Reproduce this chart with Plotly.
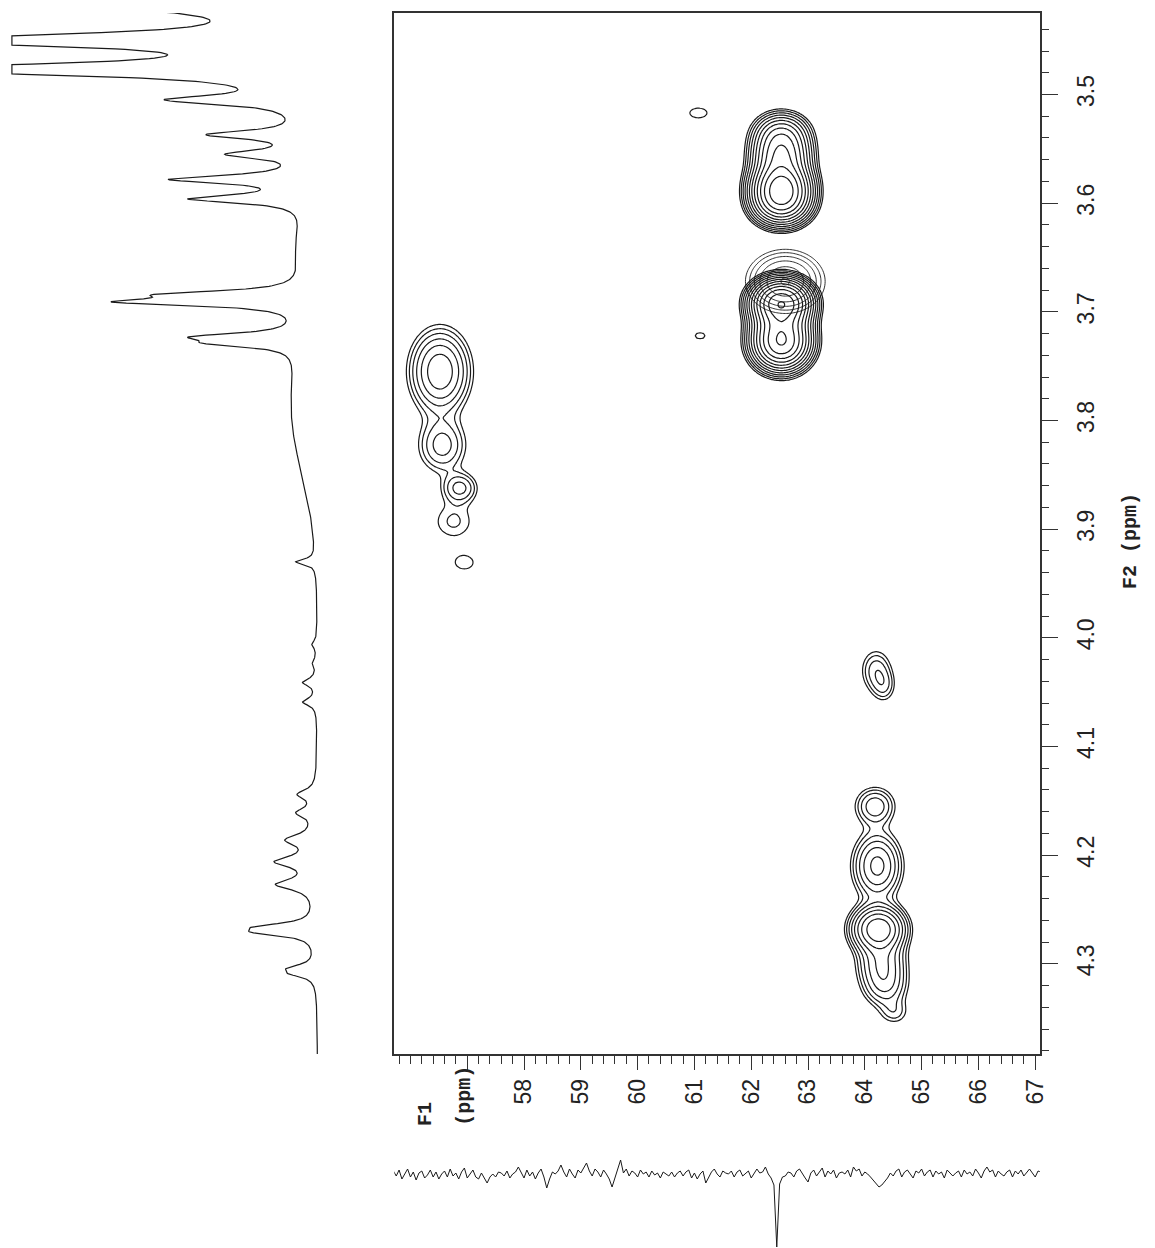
import numpy as np
import plotly.graph_objects as go

# ---------------- axis data ----------------
F1_RANGE = [55.715, 67.08]          # 13C (ppm), horizontal
F2_RANGE = [4.383, 3.425]           # 1H (ppm), vertical, increasing downward
f1_tickvals = [57, 58, 59, 60, 61, 62, 63, 64, 65, 66, 67]
f1_ticktext = ["", "58", "59", "60", "61", "62", "63", "64", "65", "66", "67"]
f2_tickvals = [3.5, 3.6, 3.7, 3.8, 3.9, 4.0, 4.1, 4.2, 4.3]
f2_ticktext = ["3.5", "3.6", "3.7", "3.8", "3.9", "4.0", "4.1", "4.2", "4.3"]

# ---------------- 2D cross peaks (main set) ----------------
pk_f1 = [62.53, 62.53, 62.53, 62.53, 62.53, 62.53, 62.53,
         56.52, 56.56, 56.87, 56.76, 56.95,
         61.07, 61.10,
         64.20, 64.34,
         64.18, 64.22, 64.24, 64.30, 64.36, 64.52]
pk_f2 = [3.585, 3.600, 3.556, 3.537, 3.692, 3.728, 3.710,
         3.755, 3.823, 3.862, 3.893, 3.931,
         3.517, 3.722,
         4.030, 4.045,
         4.155, 4.210, 4.268, 4.300, 4.322, 4.345]
pk_h = [45, 20, 18, 10, 55, 40, 10,
        7, 3.2, 3.0, 1.5, 1.2,
        1.33, 1.28,
        2.4, 1.6,
        3.5, 6, 14, 5, 3, 1.5]
pk_w1 = [0.26, 0.26, 0.26, 0.26, 0.26, 0.26, 0.26,
         0.30, 0.27, 0.20, 0.30, 0.24,
         0.20, 0.12,
         0.18, 0.14,
         0.22, 0.25, 0.26, 0.25, 0.24, 0.18]
pk_w2 = [0.013, 0.011, 0.012, 0.011, 0.011, 0.013, 0.010,
         0.022, 0.016, 0.009, 0.014, 0.009,
         0.006, 0.004,
         0.013, 0.010,
         0.011, 0.018, 0.012, 0.014, 0.012, 0.008]

# second (overlaid) weaker set
pk2_f1 = [62.60]
pk2_f2 = [3.672]
pk2_h = [5.5]
pk2_w1 = [0.38]
pk2_w2 = [0.016]

# ---------------- 1H projection (left) ----------------
h_ppm = [3.412, 3.450, 3.477, 3.505, 3.537, 3.555, 3.578, 3.596,
         3.684, 3.691, 3.723, 3.729, 3.930,
         4.006, 4.023, 4.041, 4.059,
         4.144, 4.161, 4.186, 4.206, 4.227, 4.266, 4.271, 4.304, 4.309]
h_amp = [420, 420, 420, 125, 95, 75, 135, 115,
         112, 168, 90, 70, 20,
         5, 4, 14, 14,
         18, 18, 28, 38, 38, 45, 48, 22, 20]
h_hw = [0.008, 0.006, 0.006, 0.005, 0.0045, 0.0045, 0.0045, 0.0045,
        0.004, 0.004, 0.004, 0.004, 0.003,
        0.004, 0.004, 0.004, 0.004,
        0.005, 0.005, 0.006, 0.006, 0.006, 0.004, 0.004, 0.004, 0.004]
h_broad_ppm = [3.640, 3.790]
h_broad_amp = [15, 25]
h_broad_sd = [0.025, 0.060]
H_CLIP = 308

# ---------------- 13C projection (bottom) ----------------
c13_start = 55.60
c13_step = 0.05
c13_vals = [
    2, -3, 4, -1, 5, -4, 1, 6, -2, 3, -5, 2, 4, -3, 0, 5, -2, 3, -4, 1,
    4, -2, 6, -1, 2, -4, 3, 7, -3, 1, 5, -2, -4, 2, -3, -8, -2, 1, -2, 3,
    2, -1, 4, -3, 1, 3, 8, 2, -3, 5, -1, 3, -4, 2, 6, -2, -13, -4, 3, 1,
    4, 10, 3, -2, 6, 1, -3, 5, 2, 7, 12, 4, -1, 6, 3, -2, 5, 1, -4, -12,
    -3, 4, 15, 2, 6, -1, 4, 2, -2, 5, 1, 3, -2, 4, 0, 2, -3, 3, 1, -1,
    3, -2, 2, 4, -1, 3, 5, -3, 2, -4, 1, 4, -8, -2, 3, 6, 1, -2, 4, 2,
    1, 4, -2, 3, 5, -1, 2, 4, -3, 1, 6, 2, 3, 8, 1, -3, -10, -72, -9, -2,
    -1, 3, 2, -2, 4, 6, 1, -3, -7, 2, 5, -1, 3, 7, -2, 4, 1, 5, -3, 2,
    3, 1, 5, -2, 8, 4, 6, -1, 3, 1, -2, -5, -8, -12, -10, -7, -3, 2, -1, 4,
    6, -2, 3, 5, 1, -3, 4, 2, 6, -1, 3, 5, -2, 4, 1, 3, -3, 5, 2, -1,
    2, 4, -2, 5, 1, 3, -1, 6, 2, -3, 4, 8, 3, 5, -2, 4, 1, -1, 3, 5,
    -2, 4, 1, 5, -1, 3, 6, 2, -2, 4, 3, 5,
]

# ---------------- build derived arrays ----------------
W, H = 1155, 1248
LINE = "#1a1a1a"

g1 = np.round(np.arange(55.6, 67.2, 0.025), 4)
g2 = np.round(np.arange(3.41, 4.40, 0.002), 4)
X, Y = np.meshgrid(g1, g2)


def surface(c1, c2, hh, w1, w2):
    Z = np.zeros_like(X)
    for a, b, h, s1, s2 in zip(c1, c2, hh, w1, w2):
        Z += h * np.exp(-0.5 * ((X - a) / s1) ** 2 - 0.5 * ((Y - b) / s2) ** 2)
    return np.round(np.log(Z + 1e-9), 3)


Z1 = surface(pk_f1, pk_f2, pk_h, pk_w1, pk_w2)
Z2 = surface(pk2_f1, pk2_f2, pk2_h, pk2_w1, pk2_w2)
ratio = np.log(1.4)

hp = np.arange(3.40, 4.39, 0.0005)
hI = np.zeros_like(hp)
for c, a, g in zip(h_ppm, h_amp, h_hw):
    hI += a / (1 + ((hp - c) / g) ** 2)
for c, a, s in zip(h_broad_ppm, h_broad_amp, h_broad_sd):
    hI += a * np.exp(-0.5 * ((hp - c) / s) ** 2)
hI = np.minimum(hI, H_CLIP)

c13_x = [c13_start + i * c13_step for i in range(len(c13_vals))]

fig = go.Figure()
fig.add_trace(go.Contour(
    x=g1, y=g2, z=Z1, xaxis="x", yaxis="y",
    contours=dict(start=0, end=ratio * 14, size=ratio, coloring="none"),
    line=dict(color=LINE, width=1.2, smoothing=1.0),
    showscale=False, hoverinfo="skip"))
fig.add_trace(go.Contour(
    x=g1, y=g2, z=Z2, xaxis="x", yaxis="y",
    contours=dict(start=0, end=ratio * 6, size=ratio, coloring="none"),
    line=dict(color=LINE, width=0.9, smoothing=1.0),
    showscale=False, hoverinfo="skip"))
fig.add_trace(go.Scatter(
    x=hI, y=hp, xaxis="x2", yaxis="y2", mode="lines",
    line=dict(color=LINE, width=1.2), hoverinfo="skip"))
fig.add_trace(go.Scatter(
    x=c13_x, y=c13_vals, xaxis="x3", yaxis="y3", mode="lines",
    line=dict(color=LINE, width=1.0), hoverinfo="skip"))

x_dom = [397 / W, 1047 / W]
y_dom = [1 - 1054 / H, 1 - 13 / H]
tickfont = dict(family="Liberation Sans", size=23, color="#222")
labfont = dict(family="Liberation Mono", size=20, color="#222")

fig.update_layout(
    width=W, height=H, margin=dict(l=0, r=0, t=0, b=0),
    paper_bgcolor="white", plot_bgcolor="rgba(0,0,0,0)", showlegend=False,
    xaxis=dict(domain=x_dom, range=F1_RANGE, anchor="y", side="bottom",
               showline=True, mirror=True, linecolor="#333", linewidth=1.5,
               showgrid=False, zeroline=False,
               tickmode="array", tickvals=f1_tickvals, ticktext=f1_ticktext,
               ticks="outside", ticklen=14, tickwidth=1.3, tickcolor="#333",
               tickangle=-90, tickfont=tickfont,
               minor=dict(ticks="outside", ticklen=8, tickwidth=1.1, tickcolor="#333",
                          tickmode="linear", tick0=0, dtick=0.2, showgrid=False)),
    yaxis=dict(domain=y_dom, range=F2_RANGE, anchor="x", side="right",
               showline=True, mirror=True, linecolor="#333", linewidth=1.5,
               showgrid=False, zeroline=False,
               tickmode="array", tickvals=f2_tickvals, ticktext=f2_ticktext,
               ticks="outside", ticklen=17, tickwidth=1.3, tickcolor="#333",
               tickangle=-90, tickfont=tickfont, ticklabelstandoff=8,
               minor=dict(ticks="outside", ticklen=8, tickwidth=1.1, tickcolor="#333",
                          tickmode="linear", tick0=0, dtick=0.02, showgrid=False)),
    xaxis2=dict(domain=[0, 400 / W], range=[320, -80], anchor="y2", visible=False),
    yaxis2=dict(domain=y_dom, range=F2_RANGE, anchor="x2", visible=False),
    xaxis3=dict(domain=x_dom, range=F1_RANGE, anchor="y3", visible=False),
    yaxis3=dict(domain=[0, 118 / H], range=[-73, 45], anchor="x3", visible=False),
    annotations=[
        dict(text="<b>F1</b>", x=428 / W, y=1 - 1114 / H, xref="paper", yref="paper",
             textangle=-90, showarrow=False, xanchor="center", yanchor="middle", font=labfont),
        dict(text="<b>(ppm)</b>", x=467 / W, y=1 - 1096 / H, xref="paper", yref="paper",
             textangle=-90, showarrow=False, xanchor="center", yanchor="middle", font=labfont),
        dict(text="<b>F2 (ppm)</b>", x=1138 / W, y=1 - 541 / H, xref="paper", yref="paper",
             textangle=-90, showarrow=False, xanchor="center", yanchor="middle", font=labfont),
    ],
)

fig.write_html("out.html")
